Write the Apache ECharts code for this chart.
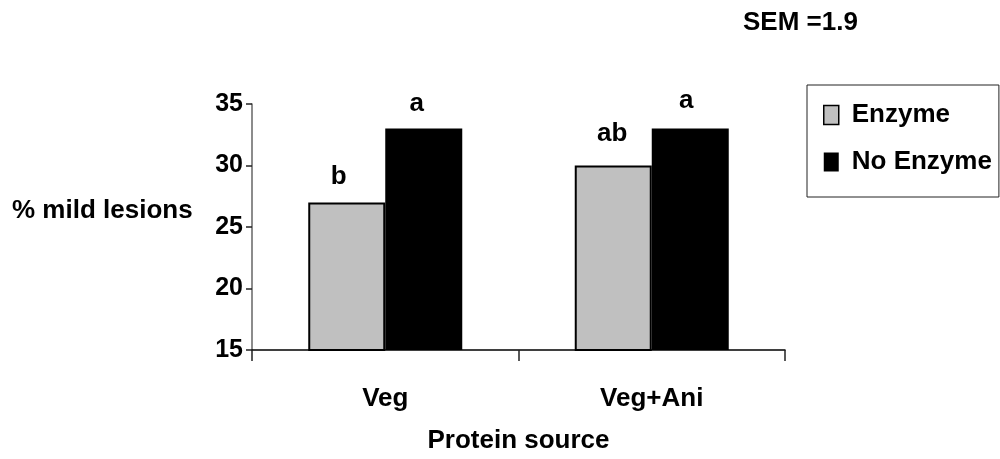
<!DOCTYPE html>
<html>
<head>
<meta charset="utf-8">
<script src="https://cdn.jsdelivr.net/npm/echarts@6/dist/echarts.min.js"></script>
<style>
  html, body { margin: 0; padding: 0; background: #fff; }
  #chart { width: 1000px; height: 459px; }
</style>
</head>
<body>
<div id="chart"></div>
<script>
// Protein source groups and the two treatment series
const categories = ['Veg', 'Veg+Ani'];
const enzyme = [27, 30];
const noEnzyme = [33, 33];
// Significance letters shown above each bar
const enzymeLetters = ['b', 'ab'];
const noEnzymeLetters = ['a', 'a'];
const yTicks = [15, 20, 25, 30, 35];

// Letter placement: [horizontal shift, gap above bar] in px
const enzymeLabelPos = [[-8, 13], [-1, 19]];
const noEnzymeLabelPos = [[-7, 12], [-4, 15]];

const FONT = '"Liberation Sans", Arial, sans-serif';
const txt = { fontFamily: FONT, fontWeight: 'bold', color: '#000' };

function withLetters(values, letters, pos) {
  return values.map((v, i) => ({
    value: v,
    label: { formatter: letters[i], offset: [pos[i][0], 0], distance: pos[i][1] }
  }));
}

const chart = echarts.init(document.getElementById('chart'), null, { renderer: 'canvas' });
chart.setOption({
  animation: false,
  backgroundColor: '#fff',
  grid: { left: 252, right: 215, top: 104, bottom: 105, containLabel: false },
  legend: {
    orient: 'vertical',
    left: 807,
    top: 85,
    padding: [17, 7, 22, 16],
    itemWidth: 15,
    itemHeight: 19,
    itemGap: 21,
    borderColor: '#222',
    borderWidth: 1,
    icon: 'rect',
    textStyle: Object.assign({ fontSize: 26, lineHeight: 26, padding: [0, 0, 0, 8] }, txt),
    data: [
      { name: 'Enzyme', itemStyle: { color: '#c0c0c0', borderColor: '#000', borderWidth: 1.5 } },
      { name: 'No Enzyme', itemStyle: { color: '#000' } }
    ]
  },
  graphic: [
    {
      type: 'text', left: 743, top: 10,
      style: { text: 'SEM =1.9', fontSize: 26, fontFamily: FONT, fontWeight: 'bold', fill: '#000' }
    },
    {
      type: 'text', left: 12, top: 198,
      style: { text: '% mild lesions', fontSize: 26, fontFamily: FONT, fontWeight: 'bold', fill: '#000' }
    }
  ],
  xAxis: {
    type: 'category',
    data: categories,
    name: 'Protein source',
    nameLocation: 'middle',
    nameGap: 78,
    nameTextStyle: Object.assign({ fontSize: 26 }, txt),
    axisLine: { lineStyle: { color: '#000', width: 1.5 } },
    axisTick: { show: true, length: 11, lineStyle: { color: '#222', width: 1.5 } },
    axisLabel: Object.assign({ fontSize: 26, margin: 36 }, txt)
  },
  yAxis: {
    type: 'value',
    min: yTicks[0],
    max: yTicks[yTicks.length - 1],
    interval: 5,
    splitLine: { show: false },
    axisLine: { show: true, lineStyle: { color: '#666', width: 1.5 } },
    axisTick: { show: true, length: 6, lineStyle: { color: '#222', width: 1.5 } },
    axisLabel: Object.assign({ fontSize: 25, margin: 9 }, txt)
  },
  series: [
    {
      name: 'Enzyme',
      type: 'bar',
      barWidth: 77,
      barGap: '0%',
      data: withLetters(enzyme, enzymeLetters, enzymeLabelPos),
      itemStyle: { color: '#c0c0c0', borderColor: '#000', borderWidth: 2 },
      label: Object.assign({ show: true, position: 'top', fontSize: 26 }, txt)
    },
    {
      name: 'No Enzyme',
      type: 'bar',
      barWidth: 77,
      barGap: '0%',
      data: withLetters(noEnzyme, noEnzymeLetters, noEnzymeLabelPos),
      itemStyle: { color: '#000' },
      label: Object.assign({ show: true, position: 'top', fontSize: 26 }, txt)
    }
  ]
});
</script>
</body>
</html>
